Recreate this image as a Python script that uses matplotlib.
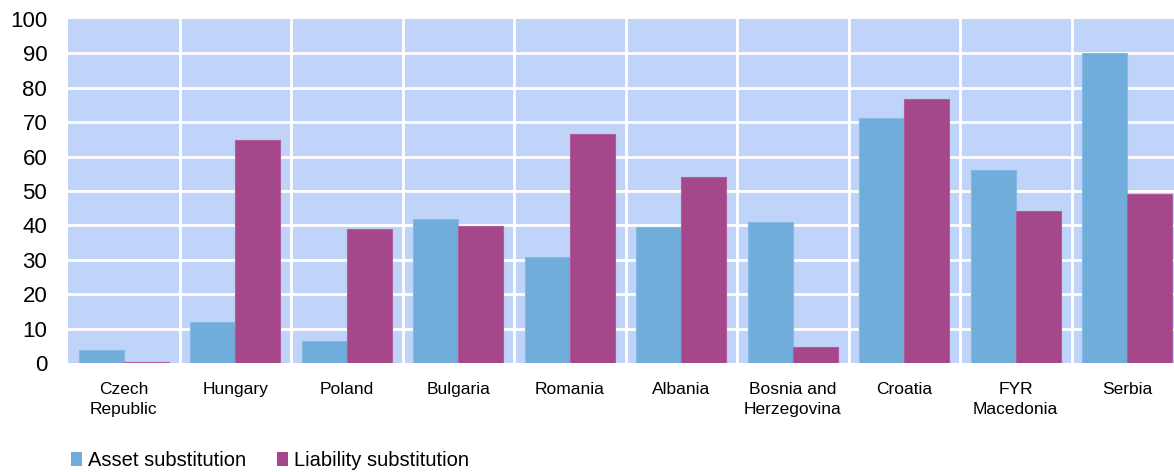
import matplotlib
matplotlib.use("Agg")
import matplotlib.pyplot as plt
from matplotlib.patches import Patch
import numpy as np

plt.rcParams['font.family'] = ['Liberation Sans', 'DejaVu Sans']

countries = ["Czech\nRepublic", "Hungary", "Poland", "Bulgaria", "Romania",
             "Albania", "Bosnia and\nHerzegovina", "Croatia", "FYR\nMacedonia", "Serbia"]
asset_substitution = [3.7, 11.8, 6.3, 41.9, 30.9, 39.5, 40.9, 71.1, 56.1, 90.0]
liability_substitution = [0.3, 64.7, 39.0, 39.8, 66.5, 54.0, 4.6, 76.8, 44.1, 49.2]
y_ticks = [0, 10, 20, 30, 40, 50, 60, 70, 80, 90, 100]

blue = "#70ADDB"
purple = "#A4478B"
panel = "#C0D3F8"

fig = plt.figure(figsize=(11.74, 4.72), dpi=100)
ax = fig.add_axes([68 / 1174, 109 / 472, 1115 / 1174, 344 / 472])
ax.set_facecolor(panel)

x = np.arange(len(countries))
w = 0.405
ax.bar(x - w / 2, asset_substitution, w, color=blue, edgecolor="#86B9E6",
       linewidth=0.8, zorder=3)
ax.bar(x + w / 2, liability_substitution, w, color=purple, edgecolor="#B25E9C",
       linewidth=0.8, zorder=3)

ax.set_xlim(-0.5, len(countries) - 0.5)
ax.set_ylim(0, 100)

# white grid: horizontal at every 10, vertical between categories
for v in y_ticks[1:-1]:
    ax.axhline(v, color="white", lw=2, zorder=1)
for b in np.arange(0.5, len(countries) - 0.5, 1.0):
    ax.axvline(b, color="white", lw=2, zorder=1)

ax.set_yticks(y_ticks)
ax.set_yticklabels([str(t) for t in y_ticks], fontsize=16)
ax.set_xticks(x)
ax.set_xticklabels(countries, fontsize=12.5, linespacing=1.4, va="top")
ax.tick_params(axis="y", length=0, pad=15)
ax.tick_params(axis="x", length=0, pad=13.5)
for s in ax.spines.values():
    s.set_visible(False)

handles = [Patch(facecolor=blue, edgecolor="none", label="Asset substitution"),
           Patch(facecolor=purple, edgecolor="none", label="Liability substitution")]
fig.legend(handles=handles, loc="lower left", bbox_to_anchor=(63 / 1174, -6 / 472),
           ncol=2, frameon=False, fontsize=14.5, handlelength=0.55, handleheight=0.75,
           handletextpad=0.3, columnspacing=1.5, borderaxespad=0)

fig.savefig("out.png", dpi=100)
